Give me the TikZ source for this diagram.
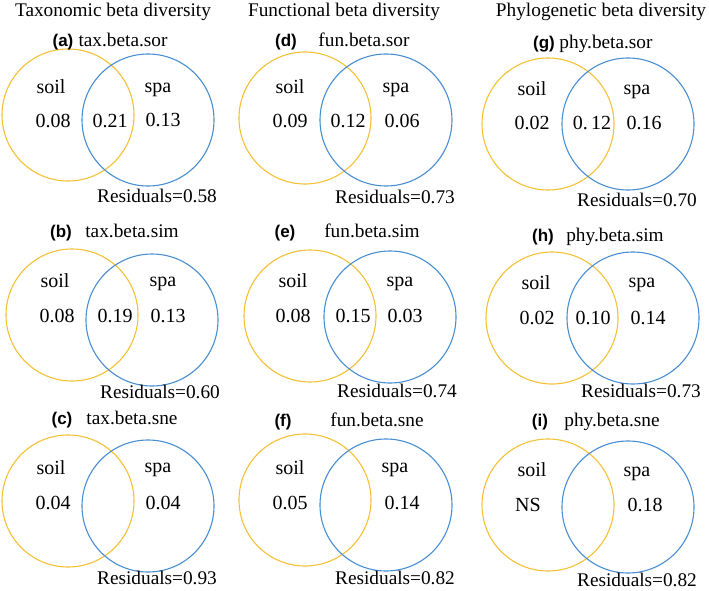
\documentclass[tikz,border=0pt]{standalone}
\usepackage{fontspec}
\setmainfont{Liberation Serif}
\newfontfamily\labfont{Liberation Sans}
\definecolor{ylw}{HTML}{F4C136}
\definecolor{blu}{HTML}{4A8ED2}
\begin{document}
\begin{tikzpicture}[x=1pt,y=-1pt,
  ring/.style={circle,draw,line width=1.1pt,minimum size=132pt,inner sep=0pt},
  ysoil/.style={ring,draw=ylw},
  bspa/.style={ring,draw=blu},
  txt/.style={inner sep=0pt,text height=0.7em,text depth=0.2em,font=\fontsize{20}{22}\selectfont},
  ttl/.style={inner sep=0pt,text height=0.7em,text depth=0.2em,font=\fontsize{19.3}{22}\selectfont},
  plab/.style={inner sep=0pt,text height=0.7em,text depth=0.2em,font=\labfont\bfseries\fontsize{17}{20}\selectfont}]
\useasboundingbox (0,0) rectangle (709,591);
% column titles
\node[ttl] (t1) at (113,14) {Taxonomic beta diversity};
\node[ttl] (t2) at (344,14) {Functional beta diversity};
\node[ttl] (t3) at (601,14) {Phylogenetic beta diversity};
% ---------- (a)
\node[ysoil] (ya) at (68,115) {};
\node[bspa] (ba) at (148,120) {};
\node[plab] (la) at (63,44) {(a)};
\node[ttl] (na) at (123,44) {tax.beta.sor};
\node[txt] (sa) at (51,91) {soil};
\node[txt] (pa) at (158,90) {spa};
\node[txt] (va1) at (53,125) {0.08};
\node[txt] (va2) at (110,125) {0.21};
\node[txt] (va3) at (163,124) {0.13};
\node[ttl] (ra) at (157,200) {Residuals=0.58};
% ---------- (b)
\node[ysoil] (yb) at (72,315) {};
\node[bspa] (bb) at (152,320) {};
\node[plab] (lb) at (61,235) {(b)};
\node[ttl] (nb) at (132,235) {tax.beta.sim};
\node[txt] (sb) at (55,285) {soil};
\node[txt] (pb) at (163,284) {spa};
\node[txt] (vb1) at (57,320) {0.08};
\node[txt] (vb2) at (115,320) {0.19};
\node[txt] (vb3) at (168,320) {0.13};
\node[ttl] (rb) at (160,396) {Residuals=0.60};
% ---------- (c)
\node[ysoil] (yc) at (68,501) {};
\node[bspa] (bc) at (148,506) {};
\node[plab] (lc) at (62,422) {(c)};
\node[ttl] (nc) at (132,422) {tax.beta.sne};
\node[txt] (sc) at (51,472) {soil};
\node[txt] (pc) at (158,470) {spa};
\node[txt] (vc1) at (53,507) {0.04};
\node[txt] (vc3) at (163,507) {0.04};
\node[ttl] (rc) at (157,582) {Residuals=0.93};
% ---------- (d)
\node[ysoil] (yd) at (305,118) {};
\node[bspa] (bd) at (386,120) {};
\node[plab] (ld) at (286,44) {(d)};
\node[ttl] (nd) at (364,44) {fun.beta.sor};
\node[txt] (sd) at (290,91) {soil};
\node[txt] (pd) at (396,90) {spa};
\node[txt] (vd1) at (290,125) {0.09};
\node[txt] (vd2) at (348,125) {0.12};
\node[txt] (vd3) at (402,125) {0.06};
\node[ttl] (rd) at (395,201) {Residuals=0.73};
% ---------- (e)
\node[ysoil] (ye) at (310,316) {};
\node[bspa] (be) at (390,317) {};
\node[plab] (le) at (285,235) {(e)};
\node[ttl] (ne) at (372,235) {fun.beta.sim};
\node[txt] (se) at (293,285) {soil};
\node[txt] (pe) at (400,284) {spa};
\node[txt] (ve1) at (293,320) {0.08};
\node[txt] (ve2) at (353,320) {0.15};
\node[txt] (ve3) at (405,320) {0.03};
\node[ttl] (re) at (397,395) {Residuals=0.74};
% ---------- (f)
\node[ysoil] (yf) at (305,500) {};
\node[bspa] (bf) at (386,505) {};
\node[plab] (lf) at (283,424) {(f)};
\node[ttl] (nf) at (377,424) {fun.beta.sne};
\node[txt] (sf) at (290,472) {soil};
\node[txt] (pf) at (395,470) {spa};
\node[txt] (vf1) at (290,507) {0.05};
\node[txt] (vf3) at (402,507) {0.14};
\node[ttl] (rf) at (395,582) {Residuals=0.82};
% ---------- (g)
\node[ysoil] (yg) at (548,124) {};
\node[bspa] (bg) at (628,124) {};
\node[plab] (lg) at (544,46) {(g)};
\node[ttl] (ng) at (606,46) {phy.beta.sor};
\node[txt] (sg) at (532,93) {soil};
\node[txt] (pg) at (637,92) {spa};
\node[txt] (vg1) at (532,127) {0.02};
\node[txt] (vg2) at (592,127) {0.\,12};
\node[txt] (vg3) at (644,127) {0.16};
\node[ttl] (rg) at (637,204) {Residuals=0.70};
% ---------- (h)
\node[ysoil] (yh) at (552,318) {};
\node[bspa] (bh) at (633,318) {};
\node[plab] (lh) at (543,239) {(h)};
\node[ttl] (nh) at (615,239) {phy.beta.sim};
\node[txt] (sh) at (536,287) {soil};
\node[txt] (ph) at (642,285) {spa};
\node[txt] (vh1) at (537,322) {0.02};
\node[txt] (vh2) at (593,322) {0.10};
\node[txt] (vh3) at (648,322) {0.14};
\node[ttl] (rh) at (641,395) {Residuals=0.73};
% ---------- (i)
\node[ysoil] (yi) at (548,505) {};
\node[bspa] (bi) at (628,507) {};
\node[plab] (li) at (540,424) {(i)};
\node[ttl] (ni) at (612,424) {phy.beta.sne};
\node[txt] (si) at (532,474) {soil};
\node[txt] (pi) at (637,474) {spa};
\node[txt] (vi1) at (528,509) {NS};
\node[txt] (vi3) at (645,509) {0.18};
\node[ttl] (ri) at (637,584) {Residuals=0.82};
\end{tikzpicture}
\end{document}
